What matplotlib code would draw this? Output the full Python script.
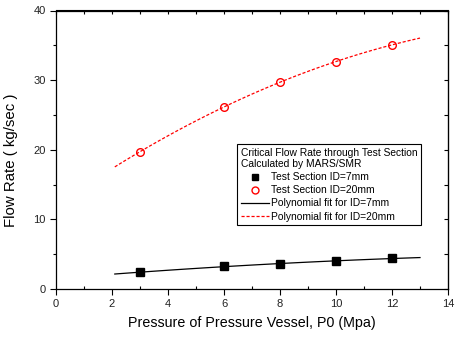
import matplotlib
matplotlib.use("Agg")
import matplotlib.pyplot as plt
import numpy as np
from matplotlib.ticker import MultipleLocator
from matplotlib.lines import Line2D

plt.rcParams['font.family'] = ['Liberation Sans', 'DejaVu Sans']

# data
p_7 = [3, 6, 8, 10, 12]
flow_7 = [2.4, 3.25, 3.65, 4.0, 4.4]
p_20 = [3, 6, 8, 10, 12]
flow_20 = [19.7, 26.2, 29.7, 32.6, 35.1]

fit_x = np.linspace(2.1, 13, 100)
c7 = np.polyfit(p_7, flow_7, 2)
c20 = np.polyfit(p_20, flow_20, 2)

fig = plt.figure(figsize=(4.55, 3.41), dpi=100)
ax = fig.add_axes([56/455, 1 - 289/341, (448-56)/455, (289-10.5)/341])

ax.plot(p_7, flow_7, 's', color='black', ms=5.5, zorder=3)
ax.plot(p_20, flow_20, 'o', mfc='none', mec='red', mew=1.0, ms=5.5, zorder=3)
ax.plot(fit_x, np.polyval(c7, fit_x), '-', color='black', lw=0.9)
ax.plot(fit_x, np.polyval(c20, fit_x), '--', color='red', lw=0.9, dashes=(2.5, 1.5))

ax.set_xlim(0, 14)
ax.set_ylim(0, 40)
ax.xaxis.set_major_locator(MultipleLocator(2))
ax.xaxis.set_minor_locator(MultipleLocator(1))
ax.yaxis.set_major_locator(MultipleLocator(10))
ax.yaxis.set_minor_locator(MultipleLocator(5))
ax.tick_params(which='both', direction='out', labelsize=8, width=0.8, labelcolor='#222222')
ax.tick_params(which='major', length=4)
ax.tick_params(which='minor', length=2.5)
ax.tick_params(axis='x', which='minor', direction='in', length=2.5)

# inward ticks on top and right
top = ax.secondary_xaxis('top')
top.xaxis.set_major_locator(MultipleLocator(1))
top.tick_params(direction='in', length=3, labeltop=False, width=0.8)
right = ax.secondary_yaxis('right')
right.yaxis.set_major_locator(MultipleLocator(5))
right.tick_params(direction='in', length=3, labelright=False, width=0.8)

for s in ax.spines.values():
    s.set_linewidth(0.9)

ax.set_xlabel('Pressure of Pressure Vessel, P0 (Mpa)', fontsize=10.3, labelpad=5)
ax.set_ylabel('Flow Rate ( kg/sec )', fontsize=10.8)
ax.yaxis.set_label_coords(-0.097, 0.463)

handles = [
    Line2D([], [], ls='none', marker='s', color='black', ms=5),
    Line2D([], [], ls='none', marker='o', mfc='none', mec='red', ms=5),
    Line2D([], [], ls='-', color='black', lw=0.9),
    Line2D([], [], ls='--', color='red', lw=0.9, dashes=(2.5, 1.5)),
]
labels = ['Test Section ID=7mm', 'Test Section ID=20mm',
          'Polynomial fit for ID=7mm', 'Polynomial fit for ID=20mm']
leg = ax.legend(handles, labels, title='Critical Flow Rate through Test Section\nCalculated by MARS/SMR',
                loc='upper left', bbox_to_anchor=((237-56)/392, (289-144)/278.5),
                fontsize=7.4, title_fontsize=7.4, fancybox=False, framealpha=1,
                edgecolor='black', handlelength=2.8, handletextpad=0.2,
                labelspacing=0.3, borderpad=0.35, borderaxespad=0)
leg._legend_box.align = 'left'
leg.get_frame().set_linewidth(0.8)

fig.savefig('out.png', dpi=100)
